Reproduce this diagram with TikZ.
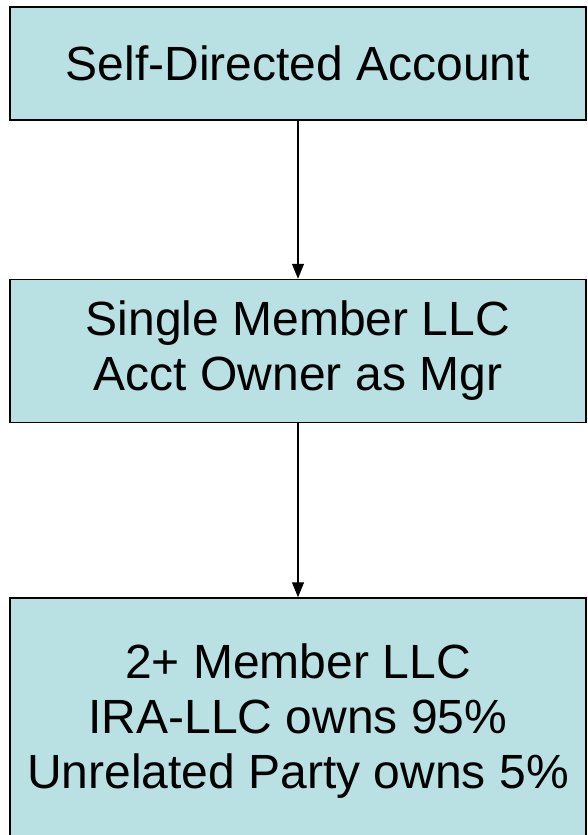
\documentclass[tikz,border=0pt]{standalone}
\usepackage{fontspec}
\setmainfont{Liberation Sans}
\usetikzlibrary{positioning,arrows.meta}
\definecolor{boxblue}{RGB}{185,224,227}

\begin{document}
\begin{tikzpicture}[x=1pt,y=1pt]
                        \tikzstyle{every node}=[rectangle,inner sep=0,align=center]
                        \tikzstyle{acct} = [draw=black,line width=1.5,fill=boxblue,minimum width=576,font=\fontsize{48}{55}\selectfont]
                        \tikzstyle{link} = [-{Triangle[length=15,width=12]},line width=1.2]
                        {
                            \useasboundingbox (0,0) rectangle (588,-835);
                            \node[acct,minimum height=113] (sda) at (298,-63.5) {Self-Directed Account};
                            \node[acct,minimum height=143] (smllc) at (298,-351) {Single Member LLC\\Acct Owner as Mgr};
                            \node[acct,minimum height=246] (mmllc) at (298,-721) {2+ Member LLC\\IRA-LLC owns 95\%\\Unrelated Party owns 5\%};

                            \draw[link] (sda.south) -- (smllc.north);
                            \draw[link] (smllc.south) -- (mmllc.north);
                        }
                    \end{tikzpicture}
\end{document}
